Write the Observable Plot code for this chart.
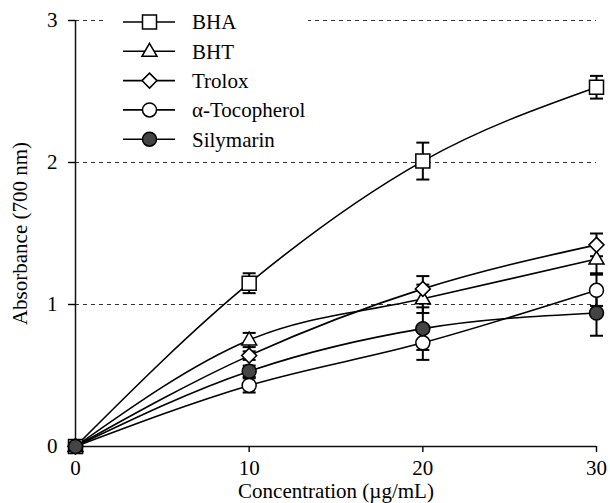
<!DOCTYPE html>
<html><head><meta charset="utf-8">
<script src="https://cdn.jsdelivr.net/npm/d3@7"></script>
<script src="https://cdn.jsdelivr.net/npm/@observablehq/plot@0.6"></script>
<style>
body{margin:0;background:#fff;}
#wrap{position:relative;width:610px;height:503px;}
#legend{position:absolute;left:104px;top:0;}
svg text{font-family:"Liberation Serif", Tinos, "Times New Roman", Times, "DejaVu Serif", serif;}
</style></head><body><div id="wrap"></div>
<script>
// ---- data ----
const concentrations = [0, 10, 20, 30];
const seriesNames = ["BHA", "BHT", "Trolox", "α-Tocopherol", "Silymarin"];
const bhaValues = [0, 1.15, 2.01, 2.53];
const bhaErrors = [0, 0.07, 0.13, 0.08];
const bhtValues = [0, 0.75, 1.04, 1.32];
const bhtErrors = [0, 0.05, 0.10, 0.10];
const troloxValues = [0, 0.64, 1.11, 1.42];
const troloxErrors = [0, 0.03, 0.09, 0.08];
const tocopherolValues = [0, 0.43, 0.73, 1.10];
const tocopherolErrors = [0, 0.05, 0.12, 0.11];
const silymarinValues = [0, 0.53, 0.83, 0.94];
const silymarinErrors = [0, 0.04, 0.15, 0.16];
const yTicks = [0, 1, 2, 3];
const xTicks = [0, 10, 20, 30];
const gridLevels = [1, 2, 3];

const allValues = [bhaValues, bhtValues, troloxValues, tocopherolValues, silymarinValues];
const allErrors = [bhaErrors, bhtErrors, troloxErrors, tocopherolErrors, silymarinErrors];

const data = seriesNames.flatMap((s, i) => concentrations.map((x, j) => ({series: s, x, y: allValues[i][j], e: allErrors[i][j]})));
const withErr = data.filter(d => d.e > 0);
const caps = withErr.flatMap(d => [{x: d.x, y: d.y + d.e}, {x: d.x, y: d.y - d.e}]);

// ---- symbols ----
const symSquare = {draw(c){ c.moveTo(-7,-7); c.lineTo(7,-7); c.lineTo(7,7); c.lineTo(-7,7); c.closePath(); }};
const symTriangle = {draw(c){ c.moveTo(0,-8); c.lineTo(7.5,5); c.lineTo(-7.5,5); c.closePath(); }};
const symDiamond = {draw(c){ c.moveTo(0,-7.5); c.lineTo(7.5,0); c.lineTo(0,7.5); c.lineTo(-7.5,0); c.closePath(); }};
const symCircle = {draw(c){ c.moveTo(7,0); c.arc(0,0,7,0,2*Math.PI); c.closePath(); }};
const symCap = {draw(c){ c.moveTo(-6.5,0); c.lineTo(6.5,0); }};
const symbols = [symSquare, symTriangle, symDiamond, symCircle, symCircle];
const fills = ["white", "white", "white", "white", "#444"];
const serif = '"Liberation Serif", Tinos, "Times New Roman", Times, "DejaVu Serif", serif';

const chart = Plot.plot({
  width: 610, height: 503,
  marginLeft: 75, marginRight: 14, marginTop: 20, marginBottom: 57,
  style: {fontFamily: serif, fontSize: "21px", color: "black", background: "white"},
  x: {domain: [0, 30]},
  y: {domain: [0, 3]},
  marks: [
    Plot.ruleY(gridLevels, {stroke: "#333", strokeWidth: 1, strokeDasharray: "4,4"}),
    Plot.ruleX([0], {stroke: "#111", strokeWidth: 1.5}),
    Plot.ruleY([0], {stroke: "#111", strokeWidth: 1.5}),
    Plot.axisX({ticks: xTicks, tickFormat: "d", tickSize: 6, tickPadding: 8, strokeWidth: 1.4, label: "Concentration (µg/mL)", labelAnchor: "center", labelArrow: "none", labelOffset: 51}),
    Plot.axisY({ticks: yTicks, tickFormat: "d", tickSize: 7, tickPadding: 11, strokeWidth: 1.4, label: "Absorbance (700 nm)", labelAnchor: "center", labelArrow: "none", labelOffset: 63}),
    Plot.line(data, {x: "x", y: "y", z: "series", curve: "monotone-x", stroke: "black", strokeWidth: 1.6}),
    Plot.link(withErr, {x1: "x", x2: "x", y1: d => d.y - d.e, y2: d => d.y + d.e, stroke: "black", strokeWidth: 2}),
    Plot.dot(caps, {x: "x", y: "y", symbol: symCap, stroke: "black", strokeWidth: 2}),
    ...seriesNames.map((s, i) => Plot.dot(data.filter(d => d.series === s), {x: "x", y: "y", symbol: symbols[i], fill: fills[i], stroke: "black", strokeWidth: 1.5}))
  ]
});
const wrap = document.getElementById("wrap");
wrap.appendChild(chart);

// ---- legend ----
const lg = d3.create("svg").attr("id", "legend").attr("width", 204).attr("height", 154)
  .style("background", "white");
const rowY = [22, 51.3, 80.6, 109.9, 139.2];
seriesNames.forEach((s, i) => {
  const g = lg.append("g").attr("transform", `translate(0,${rowY[i]})`);
  g.append("line").attr("x1", 19).attr("x2", 71).attr("stroke", "black").attr("stroke-width", 1.6);
  const p = d3.path(); symbols[i].draw(p);
  g.append("path").attr("d", p.toString()).attr("transform", "translate(45.5,0)")
    .attr("fill", fills[i]).attr("stroke", "black").attr("stroke-width", 1.5);
  g.append("text").attr("x", 88).attr("dy", "0.35em").text(s)
    .attr("font-family", serif).attr("font-size", 21);
});
wrap.appendChild(lg.node());
</script></body></html>
